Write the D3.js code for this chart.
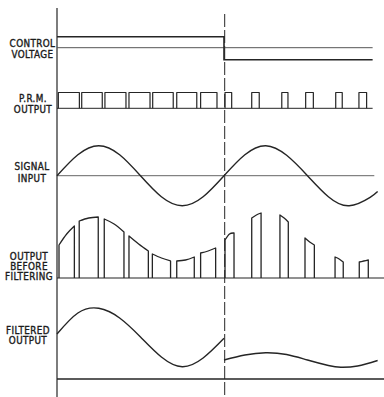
<!DOCTYPE html>
<html>
<meta charset="utf-8">
<script src="https://d3js.org/d3.v7.min.js"></script>
<style>
  body { margin: 0; background: #fff; }
  .lbl { font-family: "Liberation Sans Narrow", "Arial Narrow", "DejaVu Sans Condensed", sans-serif;
         font-size: 9.8px; fill: #1c1c1c; stroke: #1c1c1c; stroke-width: 0.35px; letter-spacing: 0.4px; }
</style>
<body>
<div id="vis"></div>
<script>

// time runs in signal periods: 0 -> 1 control voltage high, 1 -> end control voltage low
const labels = [
  ["CONTROL", "VOLTAGE"],
  ["P.R.M.", "OUTPUT"],
  ["SIGNAL", "INPUT"],
  ["OUTPUT", "BEFORE", "FILTERING"],
  ["FILTERED", "OUTPUT"]
];

// control voltage levels (relative to reference line)
const controlLevels = [
  { t0: 0, t1: 1, v: 1 },
  { t0: 1, t1: 1.89, v: -1.1 }
];

// pulse start / end times of the P.R.M. output
const pwmStart = [0.008, 0.148, 0.287, 0.431, 0.573, 0.717, 0.860, 1.006, 1.166, 1.346, 1.489, 1.669, 1.808];
const pwmEnd   = [0.134, 0.271, 0.413, 0.557, 0.696, 0.837, 0.958, 1.046, 1.211, 1.383, 1.535, 1.708, 1.854];

// signal input, sampled every eighth of a period
const signalT = [0, 0.125, 0.25, 0.375, 0.5, 0.625, 0.75, 0.875, 1, 1.125, 1.25, 1.375, 1.5, 1.625, 1.75, 1.875, 1.92];
const signalV = [0, 0.7, 1, 0.7, 0, -0.7, -1, -0.7, 0, 0.7, 1, 0.68, 0, -0.7, -1, -0.72, -0.53];

// output before filtering: pulse times and top heights (left, middle, right)
const outStart = [0.012, 0.133, 0.283, 0.431, 0.571, 0.717, 0.860, 1.006, 1.166, 1.335, 1.485, 1.665, 1.810];
const outEnd   = [0.104, 0.247, 0.401, 0.547, 0.680, 0.822, 0.950, 1.060, 1.222, 1.385, 1.541, 1.714, 1.864];
const outTopL  = [33, 57, 59, 42, 24, 17, 25, 38, 60, 63, 40, 21, 16];
const outTopM  = [44, 60, 54, 34, 20, 18, 27, 44, 63, 60, 36, 19, 17];
const outTopR  = [52, 61, 46, 27, 17, 21, 30, 45, 65, 56, 33, 16, 18];

// filtered output, before and after the change of control voltage
const filtT1 = [0, 0.125, 0.25, 0.375, 0.5, 0.625, 0.75, 0.875, 1];
const filtV1 = [45, 66, 70.7, 61, 42, 22, 12.3, 21, 40.7];
const filtT2 = [1, 1.125, 1.25, 1.375, 1.5, 1.625, 1.7, 1.8, 1.92];
const filtV2 = [19, 24, 26.3, 24.5, 19, 13.5, 11.7, 13, 18.5];

const W = 384, H = 397;
const ink = "#252525";

const svg = d3.select("#vis").append("svg")
  .attr("width", W).attr("height", H);

const x = d3.scaleLinear().domain([0, 1.9]).range([57, 374.3]);

// vertical scales, one per trace
const yCtrl = d3.scaleLinear().domain([0, 1]).range([47.7, 36.7]);
const yPwm = d3.scaleLinear().domain([0, 1]).range([108.3, 92.5]);
const ySig = d3.scaleLinear().domain([0, 1]).range([175.7, 145.7]);
const yOut = d3.scaleLinear().domain([0, 70]).range([278, 208]);
const yFilt = d3.scaleLinear().domain([0, 70]).range([379, 309]);

// axis and change-over line
svg.append("line")
  .attr("x1", x(0)).attr("x2", x(0)).attr("y1", 8).attr("y2", H)
  .attr("stroke", ink).attr("stroke-width", 1.2);
svg.append("line")
  .attr("x1", x(1) + 0.7).attr("x2", x(1) + 0.7).attr("y1", 14).attr("y2", H)
  .attr("stroke", ink).attr("stroke-width", 1)
  .style("stroke-dasharray", "13,3");

// labels
const labelX = [32.5, 33, 32, 29, 28];
const labelY = [44, 99, 167.3, 256.7, 330.7];
const lineGap = [11, 10.5, 11.7, 10, 10];
labels.forEach((rows, i) => {
  rows.forEach((r, j) => {
    svg.append("text").attr("class", "lbl")
      .attr("x", labelX[i]).attr("y", labelY[i] + j * lineGap[i])
      .attr("text-anchor", "middle").attr("dominant-baseline", "middle")
      .text(r);
  });
});

// control voltage
svg.append("line")
  .attr("x1", x(0)).attr("x2", x(1.89))
  .attr("y1", yCtrl(0)).attr("y2", yCtrl(0))
  .attr("stroke", "#555").attr("stroke-width", 1);
const ctrlPts = [];
controlLevels.forEach(d => {
  ctrlPts.push([x(d.t0), yCtrl(d.v)]);
  ctrlPts.push([x(d.t1), yCtrl(d.v)]);
});
svg.append("path")
  .attr("d", d3.line()(ctrlPts))
  .attr("fill", "none").attr("stroke", ink).attr("stroke-width", 1.6);

// P.R.M. output
svg.append("line")
  .attr("x1", x(0)).attr("x2", x(1.89))
  .attr("y1", yPwm(0)).attr("y2", yPwm(0))
  .attr("stroke", ink).attr("stroke-width", 1);
svg.append("g").selectAll("path")
  .data(pwmStart)
  .join("path")
    .attr("d", (d, i) => d3.line()([
      [x(d), yPwm(0)], [x(d), yPwm(1)], [x(pwmEnd[i]), yPwm(1)], [x(pwmEnd[i]), yPwm(0)]
    ]))
    .attr("fill", "none").attr("stroke", ink).attr("stroke-width", 1.2)
    .attr("stroke-linejoin", "round");

// signal input
svg.append("line")
  .attr("x1", x(0)).attr("x2", x(1.9))
  .attr("y1", ySig(0)).attr("y2", ySig(0))
  .attr("stroke", "#666").attr("stroke-width", 1);
svg.append("path")
  .datum(signalT.map((t, i) => [t, signalV[i]]))
  .attr("d", d3.line().x(d => x(d[0])).y(d => ySig(d[1])).curve(d3.curveNatural))
  .attr("fill", "none").attr("stroke", ink).attr("stroke-width", 1.4);

// output before filtering
svg.append("line")
  .attr("x1", x(0)).attr("x2", W)
  .attr("y1", yOut(0)).attr("y2", yOut(0))
  .attr("stroke", ink).attr("stroke-width", 1.2);
const topLine = d3.line().x(d => x(d[0])).y(d => yOut(d[1])).curve(d3.curveNatural);
svg.append("g").selectAll("path")
  .data(outStart)
  .join("path")
    .attr("d", (d, i) => {
      const m = (d + outEnd[i]) / 2;
      const top = topLine([[d, outTopL[i]], [m, outTopM[i]], [outEnd[i], outTopR[i]]]);
      return "M" + x(d) + "," + yOut(0) + "L" + top.slice(1) + "L" + x(outEnd[i]) + "," + yOut(0);
    })
    .attr("fill", "none").attr("stroke", ink).attr("stroke-width", 1.3)
    .attr("stroke-linejoin", "round");

// filtered output
svg.append("line")
  .attr("x1", x(0)).attr("x2", W)
  .attr("y1", yFilt(0)).attr("y2", yFilt(0))
  .attr("stroke", ink).attr("stroke-width", 1.3);
const filtLine = d3.line().x(d => x(d[0])).y(d => yFilt(d[1])).curve(d3.curveNatural);
[[filtT1, filtV1], [filtT2, filtV2]].forEach(([ts, vs]) => {
  svg.append("path")
    .attr("d", filtLine(ts.map((t, i) => [t, vs[i]])))
    .attr("fill", "none").attr("stroke", ink).attr("stroke-width", 1.4);
});

</script>
</body>
</html>
